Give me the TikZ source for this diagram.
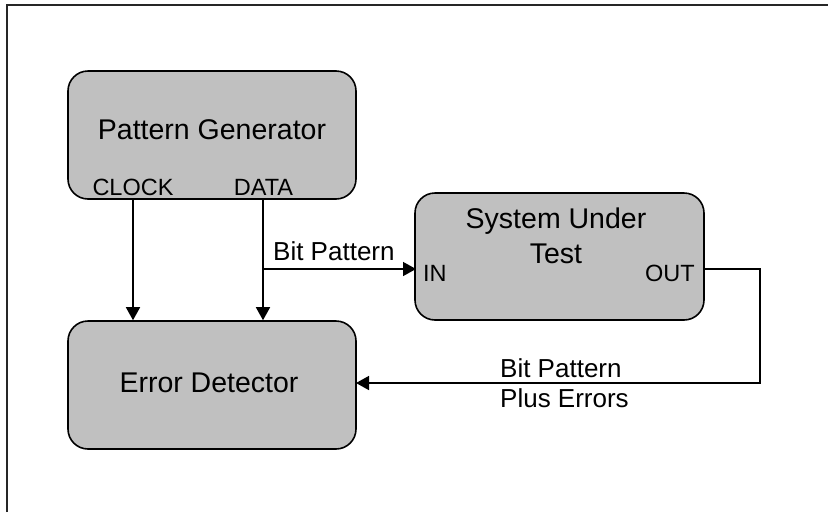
\documentclass[tikz,border=0pt]{standalone}
\usepackage{fontspec}
\setmainfont{Liberation Sans}
\usetikzlibrary{arrows.meta}
\begin{document}
\begin{tikzpicture}[x=1pt,y=-1pt,
  box/.style={draw=black,line width=1.6pt,fill=boxgray,rounded corners=20pt,minimum width=288pt,minimum height=128pt,inner sep=0pt},
  big/.style={inner sep=0pt,anchor=base,font=\fontsize{28.5}{34}\selectfont},
  port/.style={inner sep=0pt,font=\fontsize{23.5}{28}\selectfont},
  lbl/.style={inner sep=0pt,anchor=base west,font=\fontsize{26}{30}\selectfont},
  conn/.style={line width=1.5pt,draw=black},
  arr/.style={conn,-{Triangle[length=13pt,width=14pt]}}]
\definecolor{boxgray}{RGB}{192,192,192}
\useasboundingbox (0,0) rectangle (828,512);
% frame
\coordinate (fbl) at (7,512);
\coordinate (ftl) at (7,5);
\coordinate (ftr) at (828,5);
\draw[line width=2pt,black!85] (fbl) -- (ftl) -- (ftr);
% boxes
\node[box] (pg) at (212,135) {};
\node[box] (ed) at (212,385) {};
\node[box,minimum width=289pt,minimum height=127pt] (sut) at (559.5,256.5) {};
% texts
\node[big] (pgt) at (212,139) {Pattern Generator};
\node[port,anchor=base] (clk) at (133,195) {CLOCK};
\node[port,anchor=base] (dat) at (263.5,195) {DATA};
\node[big] (edt) at (209,392) {Error Detector};
\node[big] (sut1) at (556,228) {System Under};
\node[big] (sut2) at (556,263) {Test};
\node[port,anchor=base west] (in) at (423,281) {IN};
\node[port,anchor=base east] (out) at (695,281) {OUT};
\node[lbl] (bp1) at (273,260) {Bit Pattern};
\node[lbl] (bp2) at (500,377) {Bit Pattern};
\node[lbl] (pe) at (500,407) {Plus Errors};
% connector points
\coordinate (clkb) at (133,199);
\coordinate (datb) at (263,199);
\coordinate (dj) at (263,269);
\coordinate (sin) at (416,269);
\coordinate (sout) at (704,269);
\coordinate (rc1) at (760,269);
\coordinate (rc2) at (760,383);
\coordinate (edin) at (356,383);
% connectors
\draw[arr] (clkb) -- (clkb |- ed.north);
\draw[arr] (datb) -- (datb |- ed.north);
\draw[arr] (dj) -- (sin);
\draw[arr] (sout) -- (rc1) -- (rc2) -- (edin);
\end{tikzpicture}
\end{document}
